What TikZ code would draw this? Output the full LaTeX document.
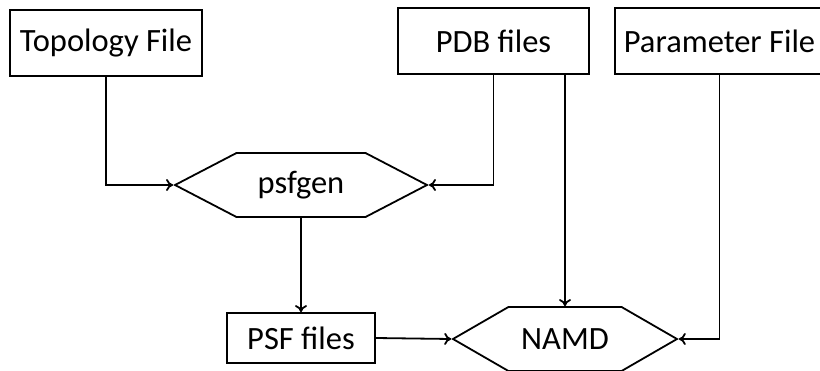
\documentclass[tikz,border=0pt]{standalone}
\usepackage{fontspec}
\setmainfont{Carlito}
\usetikzlibrary{arrows.meta,shapes.symbols,positioning}

\begin{document}
\begin{tikzpicture}[x=1pt, y=-1pt,
    filebox/.style={draw, line width=1.8pt, inner sep=0pt, font=\fontsize{32.5}{38}\selectfont},
    toolhex/.style={draw, line width=1.8pt, signal, signal to=west and east, inner sep=0pt,
        font=\fontsize{32.5}{38}\selectfont},
    flow/.style={line width=1.8pt, -{To[length=7pt, width=12pt]}}]
    \clip (0,0) rectangle (820,370);

    % Input files
    \node[filebox, minimum width=192pt, minimum height=66pt] (topo) at (106,43) {Topology File};
    \node[filebox, minimum width=191pt, minimum height=66pt] (pdb) at (493.5,41) {PDB files};
    \node[filebox, minimum width=209pt, minimum height=66pt] (param) at (719.5,41) {Parameter File};

    % Tools
    \node[toolhex, signal pointer angle=55, minimum width=252pt, minimum height=64pt] (psfgen) at (301,185) {psfgen};
    \node[toolhex, signal pointer angle=60, minimum width=224pt, minimum height=64pt] (namd) at (565,339) {NAMD};

    % Generated structure
    \node[filebox, minimum width=148pt, minimum height=50pt] (psf) at (301,338) {PSF files};

    % Connections
    \draw[flow] (topo.south) |- (psfgen.west);
    \draw[flow] (pdb.south) |- (psfgen.east);
    \draw[flow] (psfgen.south) -- (psf.north);
    \draw[flow] (psf.east) -- (namd.west);
    \draw[flow] (namd.north |- pdb.south) -- (namd.north);
    \draw[flow] (param.south) |- (namd.east);
\end{tikzpicture}
\end{document}
